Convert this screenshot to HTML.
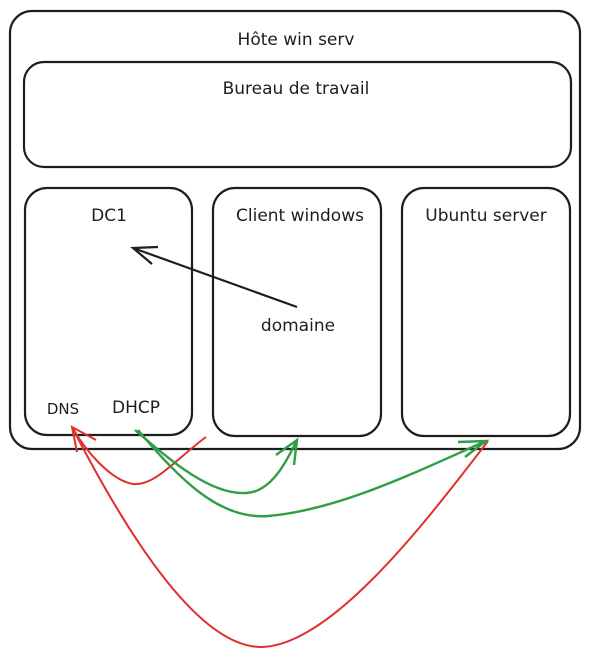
<!DOCTYPE html>
<html><head><meta charset="utf-8"><style>
html,body{margin:0;padding:0;background:#fff;width:590px;height:658px;overflow:hidden}
svg{display:block}
text{font-family:"DejaVu Sans","Liberation Sans",sans-serif;fill:#1e1e1e}
</style></head><body>
<svg width="590" height="658" viewBox="0 0 590 658" xmlns="http://www.w3.org/2000/svg">
<g fill="none" stroke="#1e1e1e" stroke-width="2.2">
<rect x="10" y="11" width="570" height="438" rx="22"/>
<rect x="24" y="62" width="547" height="105" rx="20"/>
<rect x="25" y="188" width="167" height="247" rx="22"/>
<rect x="213" y="188" width="168" height="248" rx="22"/>
<rect x="402" y="188" width="168" height="248" rx="22"/>
<line x1="297" y1="307" x2="133" y2="248"/>
<polyline points="158,247 133,248 152,264"/>
</g>
<g fill="none" stroke="#e03131" stroke-width="2">
<path d="M206,437 C175,460 155,486 133,484 C110,480 85,450 72,427"/>
<path d="M488,441 C420,530 330,645 262,647 C200,648 130,540 72,427"/>
<polyline points="96,440 72,427 77,452"/>
</g>
<g fill="none" stroke="#2f9e44" stroke-width="2.4">
<path d="M135,430 C170,460 210,495 246,493 C270,492 285,465 297,440"/>
<polyline points="276,455 297,440 294,465"/>
<path d="M138,430 C180,480 220,520 268,516 C340,510 420,470 486,441"/>
<polyline points="458,442 486,441 465,457"/>
</g>
<g font-size="17" text-anchor="middle">
<text x="296" y="45">Hôte win serv</text>
<text x="296" y="94">Bureau de travail</text>
<text x="109" y="221">DC1</text>
<text x="300" y="221">Client windows</text>
<text x="486" y="221">Ubuntu server</text>
<text x="298" y="331">domaine</text>
<text x="63" y="414" font-size="15">DNS</text>
<text x="136" y="413">DHCP</text>
</g>
</svg>
</body></html>
